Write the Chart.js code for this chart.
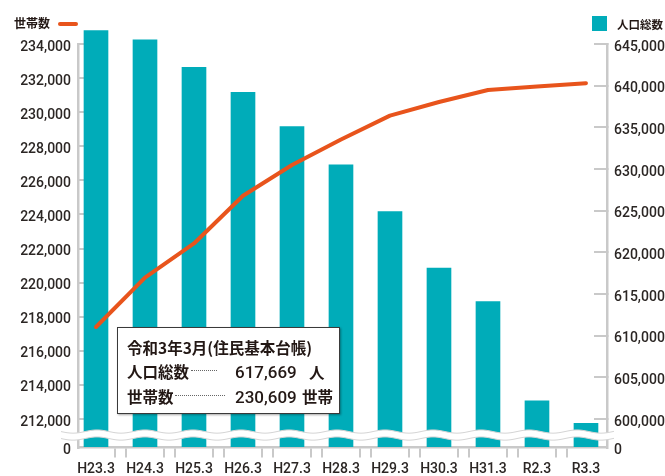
<!DOCTYPE html>
<html><head><meta charset="utf-8">
<script src="https://cdn.jsdelivr.net/npm/chart.js@4.4.1/dist/chart.umd.min.js"></script>
<style>
html,body{margin:0;padding:0;background:#fff;}
#wrap{position:relative;width:665px;height:476px;overflow:hidden;background:#fff;}
canvas{position:absolute;left:0;top:0;}
.t{position:absolute;white-space:nowrap;color:#231815;font-family:"Noto Sans CJK JP",sans-serif;line-height:20px;}
.num{font-family:Roboto,"Liberation Sans",sans-serif;font-weight:500;}
.dots{position:absolute;border-top:1.5px dotted #666;height:0;}
#box{position:absolute;left:117px;top:327px;width:221px;height:85px;background:#fff;border:1.5px solid #3a3a3a;box-shadow:1px 1px 2px rgba(0,0,0,0.35);}
</style></head><body>
<div id="wrap">
<canvas id="c" width="665" height="476"></canvas>
<div class="t" style="left:14px;top:13px;font-size:12px;font-weight:700;">世帯数</div>
<div style="position:absolute;left:58px;top:22px;width:20px;height:4px;border-radius:2px;background:#e8541c;"></div>
<div style="position:absolute;left:592px;top:16px;width:15px;height:15px;background:#00acb9;"></div>
<div class="t" style="left:617px;top:14px;font-size:11.5px;font-weight:700;">人口総数</div>
<div id="box"></div>
<div class="t" style="left:127px;top:337px;font-size:15.5px;font-weight:700;">令和3年3月(住民基本台帳)</div>
<div class="t" style="left:127px;top:361px;font-size:15.5px;font-weight:700;">人口総数</div>
<div class="dots" style="left:191px;top:370px;width:26px;"></div>
<div class="t num" style="left:235px;top:362px;font-size:17px;">617,669</div>
<div class="t" style="left:309px;top:362px;font-size:15.5px;font-weight:700;">人</div>
<div class="t" style="left:127px;top:386px;font-size:15.5px;font-weight:700;">世帯数</div>
<div class="dots" style="left:175px;top:395px;width:50px;"></div>
<div class="t num" style="left:235px;top:387px;font-size:17px;">230,609</div>
<div class="t" style="left:302px;top:386px;font-size:15.5px;font-weight:700;">世帯</div>
</div>
<script>
const categories = ['H23.3','H24.3','H25.3','H26.3','H27.3','H28.3','H29.3','H30.3','H31.3','R2.3','R3.3'];
const population = [646600, 645500, 642200, 639200, 635100, 630500, 624900, 618100, 614100, 602200, 599500];
const households = [217400, 220300, 222300, 225100, 226900, 228400, 229800, 230600, 231300, 231500, 231700];
const leftTicks = [212000,214000,216000,218000,220000,222000,224000,226000,228000,230000,232000,234000];
const rightTicks = [600000,605000,610000,615000,620000,625000,630000,635000,640000,645000];
const leftMin = 210325, rightMin = 596574;

const GREY = '#c9c9c9', TXT = '#2b2624';
const xMin = -0.3673, xMax = 10.429;

const decoPlugin = {
  id: 'deco',
  afterDatasetsDraw(chart) {
    const ctx = chart.ctx, ys = chart.scales.y, xs = chart.scales.x, ca = chart.chartArea;
    ctx.save();
    ctx.strokeStyle = GREY; ctx.lineWidth = 2;
    for (let i = 0; i < categories.length - 1; i++) {
      [i + 0.5 - 0.122, i + 0.5 + 0.122].forEach(v => {
        const px = Math.round(xs.getPixelForValue(v));
        ctx.beginPath(); ctx.moveTo(px, ca.bottom + 1); ctx.lineTo(px, ca.bottom + 10); ctx.stroke();
      });
    }
    const yTop = ys.getPixelForValue(212000) + 12.5;
    const yBot = yTop + 7;
    const x0 = ca.left - 17, x1 = ca.right + 7;
    const period = 48, amp = 1.6;
    const w = (x, y) => y + amp * Math.sin((x - x0) / period * 2 * Math.PI);
    ctx.beginPath();
    ctx.moveTo(x0, w(x0, yTop));
    for (let x = x0; x <= x1; x += 1) ctx.lineTo(x, w(x, yTop));
    for (let x = x1; x >= x0; x -= 1) ctx.lineTo(x, w(x, yBot));
    ctx.closePath();
    ctx.fillStyle = '#fff';
    ctx.fill();
    ctx.strokeStyle = '#d4d4d4';
    ctx.lineWidth = 1;
    [yTop, yBot].forEach(yy => {
      ctx.beginPath();
      for (let x = x0; x <= x1; x += 1) { if (x === x0) ctx.moveTo(x, w(x, yy)); else ctx.lineTo(x, w(x, yy)); }
      ctx.stroke();
    });
    ctx.restore();
  }
};

const tickFont = { family: 'Roboto, "Liberation Sans", sans-serif', size: 14, weight: '500' };

new Chart(document.getElementById('c'), {
  data: {
    datasets: [
      {
        type: 'line', label: '世帯数', order: 0, yAxisID: 'y', xAxisID: 'x',
        data: households.map((v, i) => ({ x: i, y: v })),
        borderColor: '#e8541c', borderWidth: 4, pointRadius: 0, tension: 0,
        borderCapStyle: 'round', borderJoinStyle: 'round', clip: false
      },
      {
        type: 'bar', label: '人口総数', order: 1, yAxisID: 'y1', xAxisID: 'x',
        data: population.map((v, i) => ({ x: i, y: v })),
        backgroundColor: '#00acb9', barThickness: 24, base: rightMin,
        clip: { left: 0, top: 20, right: 0, bottom: 0 }
      }
    ]
  },
  options: {
    responsive: false, animation: false, devicePixelRatio: 1,
    layout: { autoPadding: false, padding: { top: 44, left: 0, right: 0, bottom: 0 } },
    plugins: { legend: { display: false }, tooltip: { enabled: false } },
    scales: {
      x: {
        type: 'linear', position: 'bottom', min: xMin, max: xMax, offset: false,
        afterBuildTicks: s => { s.ticks = categories.map((c, i) => ({ value: i })); },
        ticks: { callback: (v, i) => categories[i], autoSkip: false, maxRotation: 0, minRotation: 0, font: tickFont, color: TXT, padding: 13 },
        grid: { display: false, drawTicks: false, offset: false },
        border: { display: true, color: GREY, width: 2.5 },
        afterFit: s => { s.height = 26; }
      },
      y: {
        type: 'linear', position: 'left', min: leftMin, max: 234000,
        afterBuildTicks: s => { s.ticks = [{ value: leftMin }].concat(leftTicks.map(v => ({ value: v }))); },
        ticks: { callback: v => v === leftMin ? '0' : v.toLocaleString('en-US'), font: tickFont, color: TXT, padding: 20, labelOffset: 3 },
        grid: { drawOnChartArea: false, drawTicks: true, tickLength: -13, lineWidth: 2,
                color: c => (c.tick && c.tick.value === leftMin) ? 'rgba(0,0,0,0)' : GREY },
        border: { display: true, color: GREY, width: 2.5 },
        afterFit: s => { s.width = 78; }
      },
      y1: {
        type: 'linear', position: 'right', min: rightMin, max: 645000,
        afterBuildTicks: s => { s.ticks = [{ value: rightMin }].concat(rightTicks.map(v => ({ value: v }))); },
        ticks: { callback: v => v === rightMin ? '0' : v.toLocaleString('en-US'), font: tickFont, color: TXT, padding: 20, labelOffset: 3 },
        grid: { drawOnChartArea: false, drawTicks: true, tickLength: -13, lineWidth: 2,
                color: c => (c.tick && c.tick.value === rightMin) ? 'rgba(0,0,0,0)' : GREY },
        border: { display: true, color: GREY, width: 2.5 },
        afterFit: s => { s.width = 58; }
      }
    }
  },
  plugins: [decoPlugin]
});
</script>
</body></html>
